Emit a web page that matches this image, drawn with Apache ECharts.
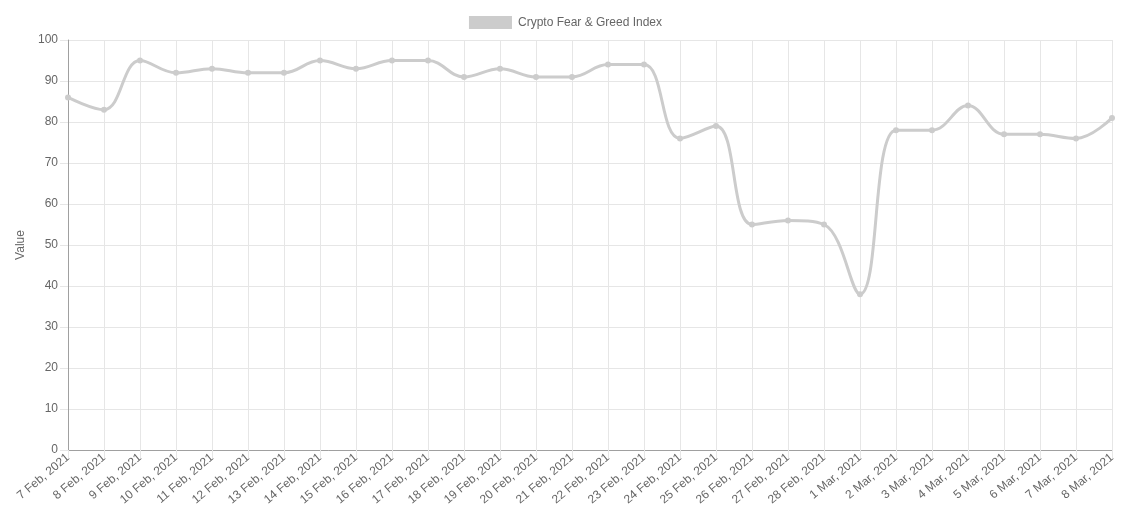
<!DOCTYPE html>
<html>
<head>
<meta charset="utf-8">
<script src="https://cdn.jsdelivr.net/npm/echarts@6/dist/echarts.min.js"></script>
<style>
html, body { margin: 0; padding: 0; background: #fff; }
#main { width: 1131px; height: 509px; }
</style>
</head>
<body>
<div id="main"></div>
<script>
// dates on the x axis
var days = ['7 Feb, 2021', '8 Feb, 2021', '9 Feb, 2021', '10 Feb, 2021', '11 Feb, 2021', '12 Feb, 2021',
	'13 Feb, 2021', '14 Feb, 2021', '15 Feb, 2021', '16 Feb, 2021', '17 Feb, 2021', '18 Feb, 2021',
	'19 Feb, 2021', '20 Feb, 2021', '21 Feb, 2021', '22 Feb, 2021', '23 Feb, 2021', '24 Feb, 2021',
	'25 Feb, 2021', '26 Feb, 2021', '27 Feb, 2021', '28 Feb, 2021', '1 Mar, 2021', '2 Mar, 2021',
	'3 Mar, 2021', '4 Mar, 2021', '5 Mar, 2021', '6 Mar, 2021', '7 Mar, 2021', '8 Mar, 2021']
// index values
var fearGreed = [86, 83, 95, 92, 93, 92, 92, 95, 93, 95, 95, 91, 93, 91, 91, 94, 94, 76,
	79, 55, 56, 55, 38, 78, 78, 84, 77, 77, 76, 81]
var seriesName = 'Crypto Fear & Greed Index'

var font = 'Liberation Sans, Arial, Helvetica, sans-serif'
var gridColor = '#e6e6e6'

var option = {
	animation: false,
	textStyle: { fontFamily: font },
	legend: {
		top: 16,
		left: 'center',
		itemWidth: 43,
		itemHeight: 13,
		itemGap: 10,
		icon: 'rect',
		padding: 0,
		textStyle: { color: '#666', fontSize: 12, fontFamily: font, padding: [0, 0, 0, 1] },
		data: [seriesName]
	},
	grid: {
		left: 68,
		right: 19,
		top: 40,
		bottom: 59,
		containLabel: false
	},
	xAxis: {
		type: 'category',
		data: days,
		boundaryGap: false,
		axisLine: { lineStyle: { color: '#a0a0a0' } },
		axisTick: { show: true, length: 8, lineStyle: { color: gridColor } },
		splitLine: { show: true, lineStyle: { color: gridColor } },
		axisLabel: {
			interval: 0,
			rotate: 40,
			color: '#666',
			fontSize: 12,
			fontFamily: font,
			margin: 6
		}
	},
	yAxis: {
		type: 'value',
		min: 0,
		max: 100,
		interval: 10,
		name: 'Value',
		nameLocation: 'middle',
		nameRotate: 90,
		nameGap: 41,
		nameTextStyle: { color: '#666', fontSize: 12, fontFamily: font },
		axisLine: { show: true, lineStyle: { color: '#a0a0a0' } },
		axisTick: { show: true, length: 8, lineStyle: { color: gridColor } },
		splitLine: { show: true, lineStyle: { color: gridColor } },
		axisLabel: { color: '#666', fontSize: 12, fontFamily: font, margin: 10 }
	},
	series: [{
		name: seriesName,
		type: 'line',
		data: fearGreed,
		smooth: 0.4,
		symbol: 'circle',
		symbolSize: 6,
		itemStyle: { color: '#cccccc' },
		lineStyle: { color: '#cccccc', width: 3 }
	}]
}

var myChart = echarts.init(document.getElementById('main'))
myChart.setOption(option)
</script>
</body>
</html>
